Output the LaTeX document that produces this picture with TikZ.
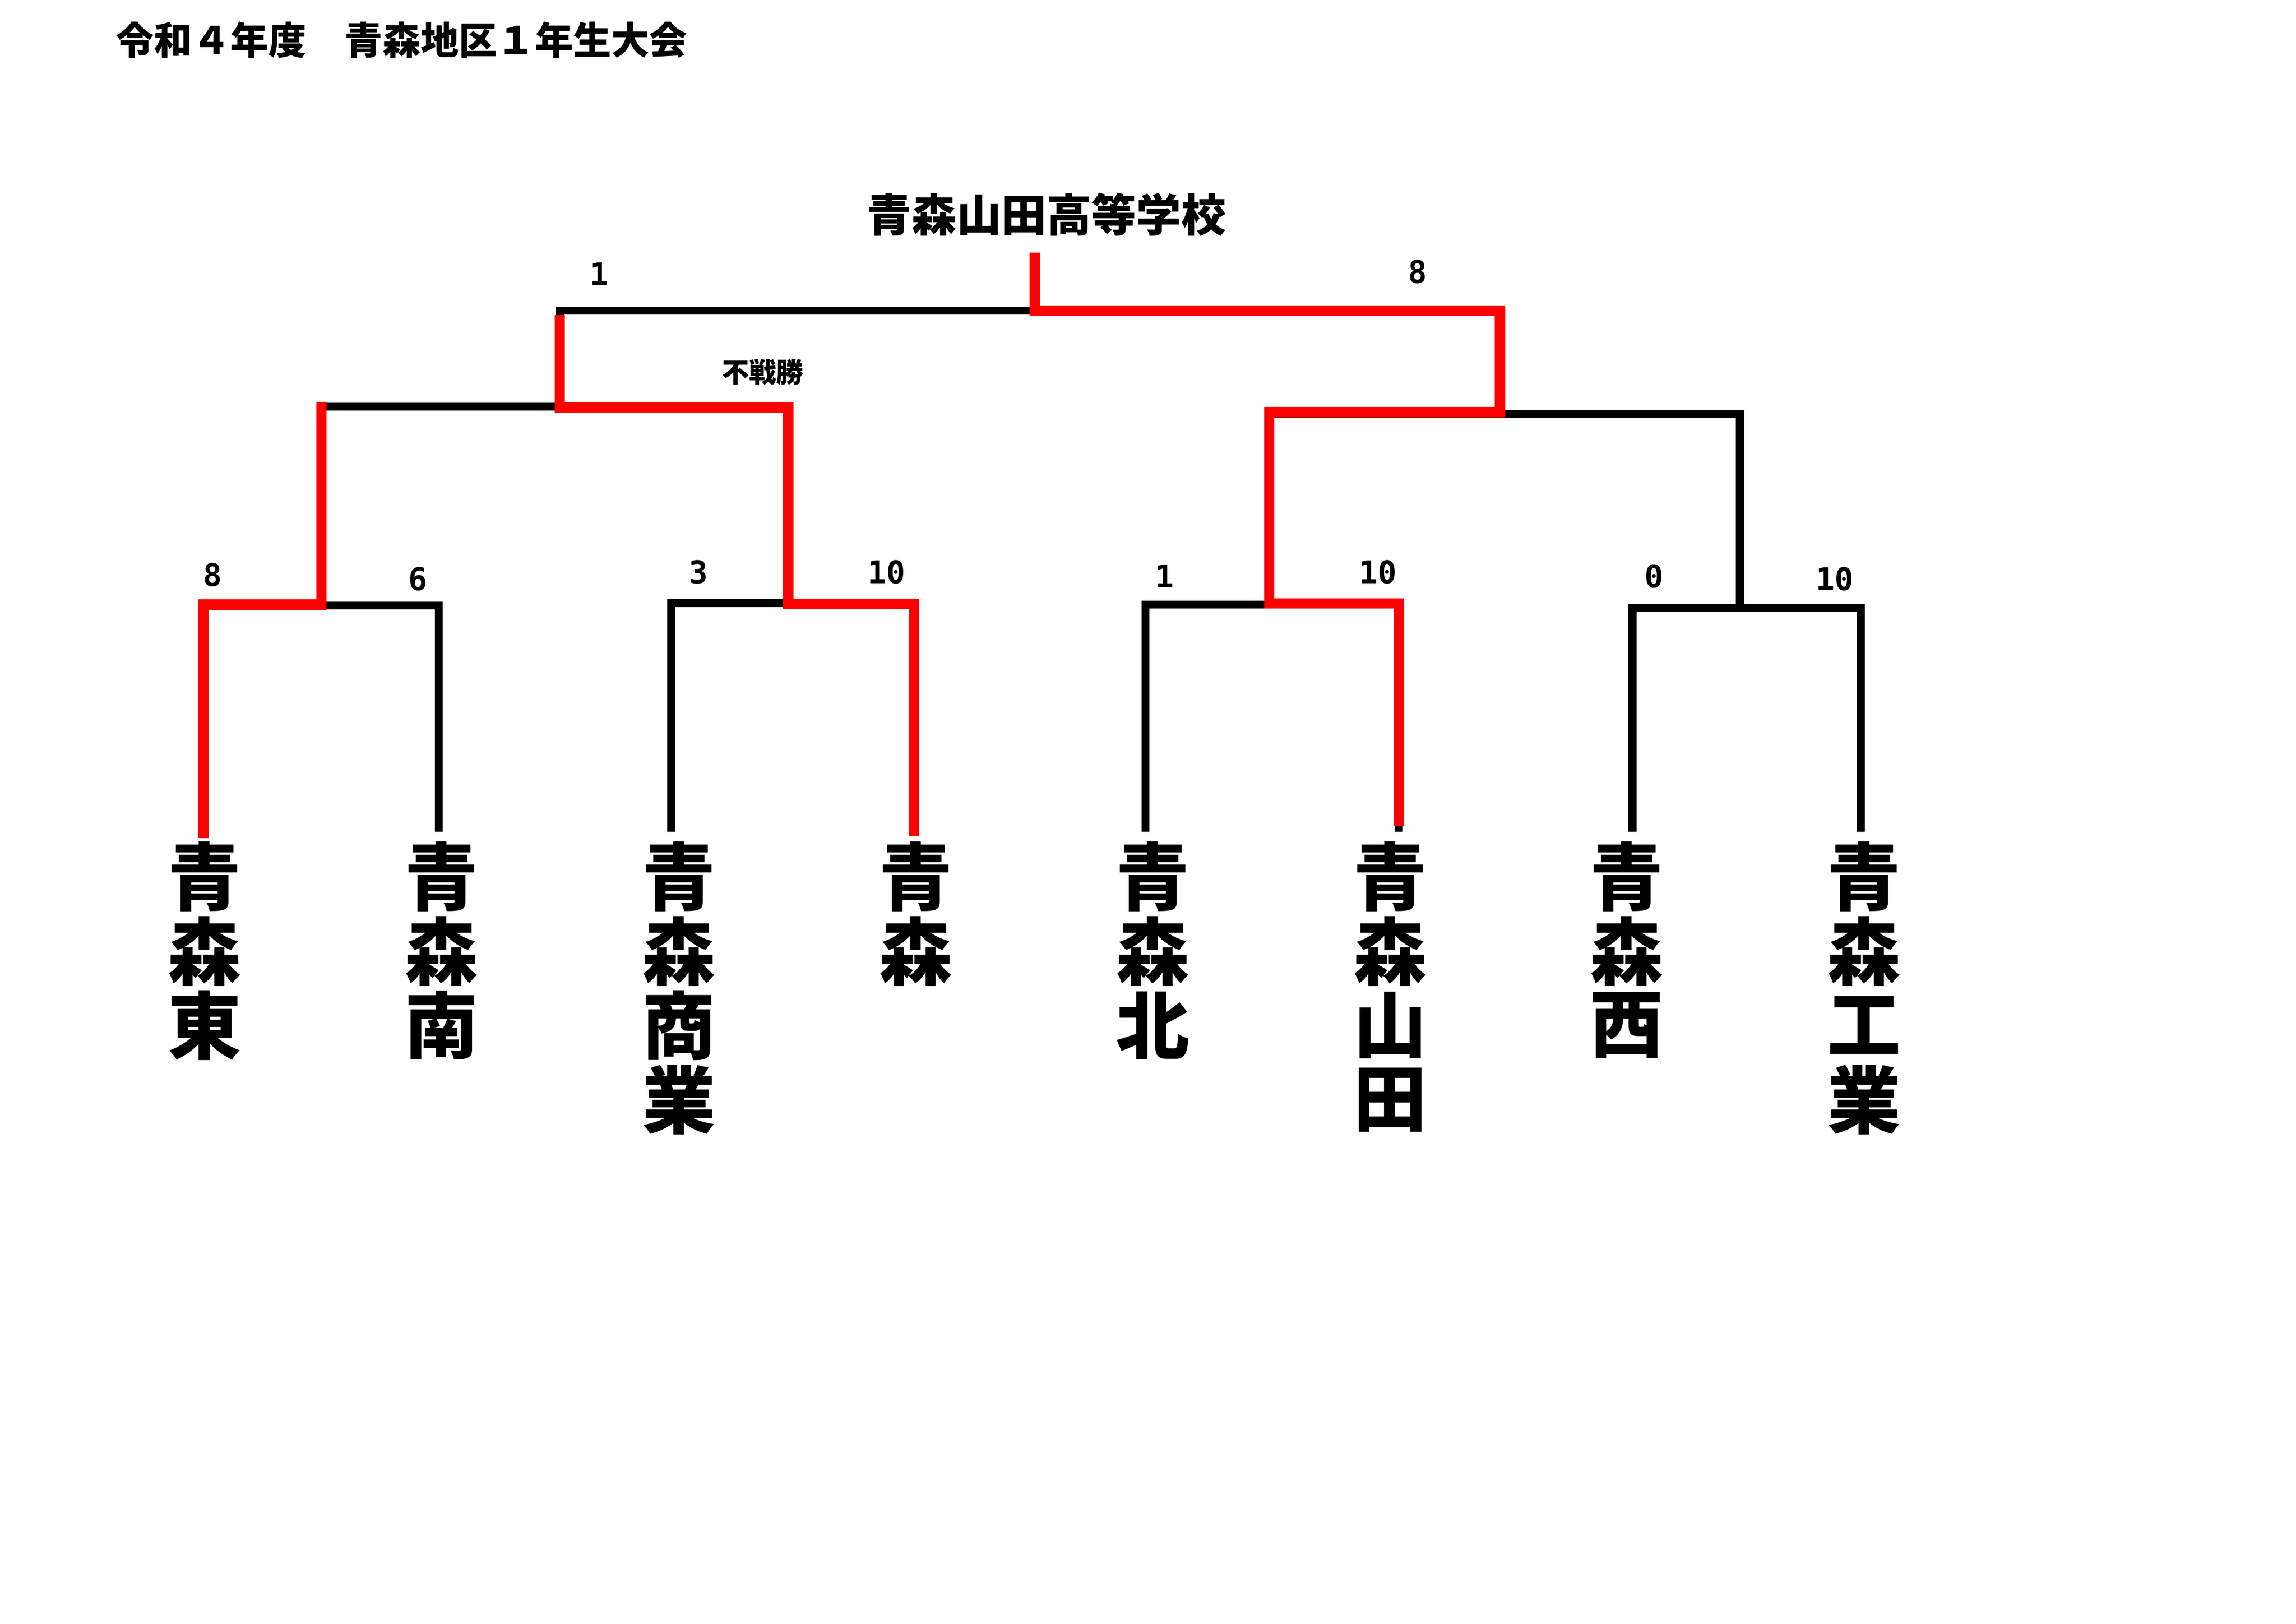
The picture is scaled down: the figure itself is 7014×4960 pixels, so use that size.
\documentclass[tikz,border=0pt]{standalone}
\usepackage{fontspec}
\newfontfamily\jp{Noto Sans CJK JP}
\newfontfamily\digitfont{DejaVu Sans Mono}
\tikzset{
  blk/.style={line width=2.9pt, black, line join=miter},
  redl/.style={line width=3.8pt, red, line join=miter},
  teamchar/.style={font=\jp\bfseries\fontsize{27}{27}\selectfont, inner sep=0pt},
  score/.style={font=\digitfont\bfseries\fontsize{11.5}{11.5}\selectfont, inner sep=0pt},
  titletext/.style={font=\jp\bfseries\fontsize{14}{14}\selectfont, inner sep=0pt},
  winner/.style={font=\jp\bfseries\fontsize{16.5}{16.5}\selectfont, inner sep=0pt},
  note/.style={font=\jp\bfseries\fontsize{10}{10}\selectfont, inner sep=0pt},
}
\begin{document}
\begin{tikzpicture}[x=0.0042333cm, y=-0.0042333cm]
\useasboundingbox[fill=white] (0,0) rectangle (7014,4960);

% title and champion
\node[titletext, anchor=west] (title) at (352,122) {令和４年度　青森地区１年生大会};
\node[winner] (champ) at (3197,655) {青森山田高等学校};
\node[note] (fusen) at (2330,1137) {不戦勝};

% leaf ends (bottom of verticals)
\coordinate (b1) at (622,2540);  \coordinate (b2) at (1340,2540);
\coordinate (b3) at (2050,2540); \coordinate (b4) at (2793,2540);
\coordinate (b5) at (3499,2540); \coordinate (b6) at (4273,2540);
\coordinate (b7) at (4987,2540); \coordinate (b8) at (5685,2540);
% quarterfinal corners
\coordinate (q1a) at (622,1849);  \coordinate (q1b) at (1340,1849); \coordinate (q1m) at (982,1849);
\coordinate (q2a) at (2050,1842); \coordinate (q2b) at (2793,1842); \coordinate (q2m) at (2408,1842);
\coordinate (q3a) at (3499,1847); \coordinate (q3b) at (4273,1847); \coordinate (q3m) at (3877,1847);
\coordinate (q4a) at (4987,1857); \coordinate (q4b) at (5685,1857); \coordinate (q4m) at (5315,1857);
% semifinal corners
\coordinate (s1a) at (982,1242);  \coordinate (s1b) at (2408,1242); \coordinate (s1m) at (1710,1242);
\coordinate (s2a) at (3877,1265); \coordinate (s2b) at (5315,1265); \coordinate (s2m) at (4582,1265);
% final
\coordinate (fa) at (1710,949); \coordinate (fb) at (4582,949); \coordinate (fm) at (3161,949);
\coordinate (top) at (3161,772);

% black bracket
\draw[blk] (b1) -- (q1a) -- (q1b) -- (b2);
\draw[blk] (b3) -- (q2a) -- (q2b) -- (b4);
\draw[blk] (b5) -- (q3a) -- (q3b) -- (b6);
\draw[blk] (b7) -- (q4a) -- (q4b) -- (b8);
\draw[blk] (q1m) -- (s1a) -- (s1b) -- (q2m);
\draw[blk] (q3m) -- (s2a) -- (s2b) -- (q4m);
\draw[blk] (s1m) -- (fa) -- (fb) -- (s2m);

% red winner paths
\coordinate (r1) at (622,2560);
\coordinate (r1q) at (622,1847);
\coordinate (r1m) at (982,1847);
\coordinate (r1s) at (982,1228);
\draw[redl] (r1) -- (r1q) -- (r1m) -- (r1s);

\coordinate (r2) at (2793,2555);
\coordinate (r2q) at (2793,1845);
\coordinate (r2m) at (2408,1845);
\coordinate (r2s) at (2408,1245);
\coordinate (r2t) at (1710,1245);
\coordinate (r2f) at (1710,962);
\draw[redl] (r2) -- (r2q) -- (r2m) -- (r2s) -- (r2t) -- (r2f);

\coordinate (r3) at (4273,2522);
\coordinate (r3q) at (4273,1843);
\coordinate (r3m) at (3877,1843);
\coordinate (r3s) at (3877,1259);
\coordinate (r3t) at (4582,1259);
\coordinate (r3f) at (4582,949);
\draw[redl] (r3) -- (r3q) -- (r3m) -- (r3s) -- (r3t) -- (r3f) -- (fm) -- (top);

% scores
\node[score] (sc1) at (649,1756) {8};
\node[score] (sc2) at (1276,1768) {6};
\node[score] (sc3) at (2133,1748) {3};
\node[score] (sc4) at (2708,1748) {10};
\node[score] (sc5) at (3557,1760) {1};
\node[score] (sc6) at (4209,1747) {10};
\node[score] (sc7) at (5053,1760) {0};
\node[score] (sc8) at (5605,1768) {10};
\node[score] (sf1) at (1831,837) {1};
\node[score] (sf2) at (4331,830) {8};

% team names (vertical)
\foreach \nm/\xx/\txt in {t1/625/{青,森,東}, t2/1349/{青,森,南}, t3/2074/{青,森,商,業}, t4/2798/{青,森},
                          t5/3522/{青,森,北}, t6/4247/{青,森,山,田}, t7/4970/{青,森,西}, t8/5695/{青,森,工,業}}{
  \foreach \ch [count=\k] in \txt {
    \node[teamchar] (\nm-\k) at (\xx,{2678+227*(\k-1)}) {\ch};
  }
}
\end{tikzpicture}
\end{document}
